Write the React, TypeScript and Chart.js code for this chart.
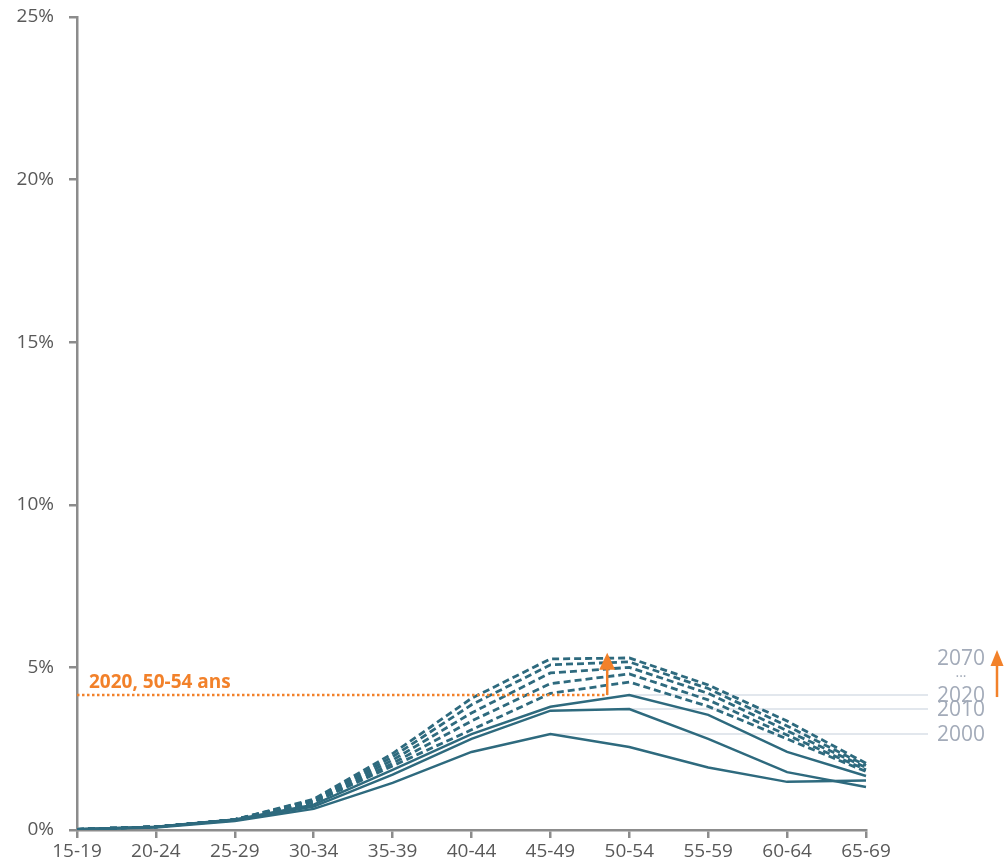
import React, { useEffect, useRef } from "react";
import { Chart, registerables } from "chart.js";

Chart.register(...registerables);

const AGE_GROUPS = ["15-19", "20-24", "25-29", "30-34", "35-39", "40-44", "45-49", "50-54", "55-59", "60-64", "65-69"];
const YEARS = ["2000", "2010", "2020", "2030", "2040", "2050", "2060", "2070"];

const S2000 = [0.02, 0.08, 0.28, 0.65, 1.45, 2.4, 2.95, 2.55, 1.92, 1.48, 1.52];
const S2010 = [0.02, 0.09, 0.3, 0.72, 1.7, 2.8, 3.67, 3.72, 2.8, 1.78, 1.32];
const S2020 = [0.02, 0.1, 0.32, 0.78, 1.85, 2.95, 3.79, 4.15, 3.54, 2.4, 1.66];
const S2030 = [0.02, 0.1, 0.32, 0.85, 1.97, 3.08, 4.2, 4.55, 3.8, 2.8, 1.8];
const S2040 = [0.02, 0.1, 0.32, 0.87, 2.05, 3.35, 4.5, 4.8, 4.0, 2.92, 1.85];
const S2050 = [0.02, 0.1, 0.32, 0.9, 2.15, 3.6, 4.83, 5.0, 4.2, 3.05, 1.92];
const S2060 = [0.02, 0.1, 0.32, 0.92, 2.25, 3.85, 5.08, 5.17, 4.35, 3.2, 1.98];
const S2070 = [0.02, 0.1, 0.32, 0.95, 2.35, 4.05, 5.26, 5.29, 4.46, 3.35, 2.05];

const SERIES = [S2000, S2010, S2020, S2030, S2040, S2050, S2060, S2070];
const SOLID_YEARS = ["2000", "2010", "2020"];

const Y_MIN = 0;
const Y_MAX = 25;
const Y_STEP = 5;

const ANNOT_LABEL = "2020, 50-54 ans";
const ANNOT_VALUE = S2020[7];
const ANNOT_ARROW_POS = 6.72;
const ANNOT_ARROW_TOP = 5.45;

const LINE_COLOR = "#2E6A7E";
const ORANGE = "#F2812A";
const AXIS_COLOR = "#8C8C8C";
const TICK_TEXT = "#595959";
const LABEL_GRAY = "#A3ABB9";
const REF_LINE = "#D9DFE7";
const FONT = "'Open Sans', sans-serif";

function drawArrow(ctx: CanvasRenderingContext2D, x: number, yBottom: number, yTop: number, headW: number, headH: number) {
  ctx.save();
  ctx.strokeStyle = ORANGE;
  ctx.fillStyle = ORANGE;
  ctx.lineWidth = 2.5;
  ctx.setLineDash([]);
  ctx.beginPath();
  ctx.moveTo(x, yBottom);
  ctx.lineTo(x, yTop + headH - 1);
  ctx.stroke();
  ctx.beginPath();
  ctx.moveTo(x, yTop);
  ctx.lineTo(x - headW / 2, yTop + headH);
  ctx.lineTo(x + headW / 2, yTop + headH);
  ctx.closePath();
  ctx.fill();
  ctx.restore();
}

const refLinesPlugin = {
  id: "refLines",
  beforeDatasetsDraw(chart: any) {
    const ctx = chart.ctx as CanvasRenderingContext2D;
    const xs = chart.scales.x;
    const ys = chart.scales.y;
    ctx.save();
    ctx.strokeStyle = REF_LINE;
    ctx.lineWidth = 1.5;
    [S2000, S2010, S2020].forEach((s) => {
      let idx = 0;
      s.forEach((v, i) => {
        if (v > s[idx]) idx = i;
      });
      const y = ys.getPixelForValue(s[idx]);
      ctx.beginPath();
      ctx.moveTo(xs.getPixelForValue(idx), y);
      ctx.lineTo(928, y);
      ctx.stroke();
    });
    ctx.restore();
  },
  afterDatasetsDraw(chart: any) {
    const ctx = chart.ctx as CanvasRenderingContext2D;
    const xs = chart.scales.x;
    const ys = chart.scales.y;
    const area = chart.chartArea;
    const ay = ys.getPixelForValue(ANNOT_VALUE);
    const ax = xs.getPixelForValue(ANNOT_ARROW_POS);
    ctx.save();
    ctx.strokeStyle = ORANGE;
    ctx.lineWidth = 2.5;
    ctx.setLineDash([2.5, 2.5]);
    ctx.beginPath();
    ctx.moveTo(area.left, ay);
    ctx.lineTo(ax, ay);
    ctx.stroke();
    ctx.restore();
    drawArrow(ctx, ax, ay, ys.getPixelForValue(ANNOT_ARROW_TOP), 16, 17);

    ctx.save();
    ctx.fillStyle = ORANGE;
    ctx.font = "bold 19px " + FONT;
    ctx.textAlign = "left";
    ctx.textBaseline = "middle";
    ctx.fillText(ANNOT_LABEL, area.left + 12, ay - 12);
    ctx.restore();

    const max2070 = Math.max(...S2070);
    const max2020 = Math.max(...S2020);
    const labels: [string, number][] = [
      ["2070", max2070],
      ["2020", max2020],
      ["2010", Math.max(...S2010)],
      ["2000", Math.max(...S2000)],
    ];
    ctx.save();
    ctx.fillStyle = LABEL_GRAY;
    ctx.font = "21px " + FONT;
    ctx.textAlign = "left";
    ctx.textBaseline = "middle";
    labels.forEach(([t, v]) => {
      ctx.fillText(t, 937, ys.getPixelForValue(v) + 1);
    });
    ctx.textAlign = "center";
    ctx.font = "14px " + FONT;
    ctx.fillText("...", 961, (ys.getPixelForValue(max2070) + ys.getPixelForValue(max2020)) / 2 - 3);
    ctx.restore();
    drawArrow(ctx, 997, ys.getPixelForValue(max2020) + 2, ys.getPixelForValue(max2070) - 8, 13, 16);
  },
};

export default function App() {
  const canvasRef = useRef<HTMLCanvasElement | null>(null);

  useEffect(() => {
    if (!canvasRef.current) return;
    const datasets = YEARS.map((yr, i) => {
      const solid = SOLID_YEARS.includes(yr);
      return {
        label: yr,
        data: SERIES[i],
        borderColor: LINE_COLOR,
        backgroundColor: LINE_COLOR,
        borderWidth: solid ? 2.5 : 2.8,
        borderDash: solid ? [] : [7, 4],
        pointRadius: 0,
        tension: 0,
        fill: false,
      };
    });
    const chart = new Chart(canvasRef.current, {
      type: "line",
      data: { labels: AGE_GROUPS, datasets },
      options: {
        responsive: false,
        animation: false,
        layout: { padding: { left: 0, right: 138, top: 17, bottom: 0 } },
        plugins: {
          legend: { display: false },
          tooltip: { enabled: false },
          title: { display: false },
        },
        scales: {
          x: {
            offset: false,
            afterFit: (s: any) => {
              s.height = 37;
              s.paddingLeft = 0;
              s.paddingRight = 0;
            },
            grid: {
              display: true,
              drawOnChartArea: false,
              drawTicks: true,
              tickLength: 8,
              tickColor: AXIS_COLOR,
              lineWidth: 2.5,
            },
            border: { display: true, color: AXIS_COLOR, width: 2.5 },
            ticks: {
              color: TICK_TEXT,
              font: { family: FONT, size: 19 },
              padding: 2,
              maxRotation: 0,
              autoSkip: false,
            },
          },
          y: {
            min: Y_MIN,
            max: Y_MAX,
            afterFit: (s: any) => {
              s.width = 77;
              s.paddingTop = 0;
              s.paddingBottom = 0;
            },
            grid: {
              display: true,
              drawOnChartArea: false,
              drawTicks: true,
              tickLength: 8,
              tickColor: AXIS_COLOR,
              lineWidth: 2.5,
            },
            border: { display: true, color: AXIS_COLOR, width: 2.5 },
            ticks: {
              stepSize: Y_STEP,
              color: TICK_TEXT,
              font: { family: FONT, size: 19 },
              padding: 15,
              callback: (v: any) => v + "%",
            },
          },
        },
      },
      plugins: [refLinesPlugin],
    });
    return () => chart.destroy();
  }, []);

  return (
    <div style={{ position: "absolute", left: 0, top: 0, width: 1004, height: 867, background: "#fff" }}>
      <canvas ref={canvasRef} width={1004} height={867} style={{ width: 1004, height: 867 }} />
    </div>
  );
}
